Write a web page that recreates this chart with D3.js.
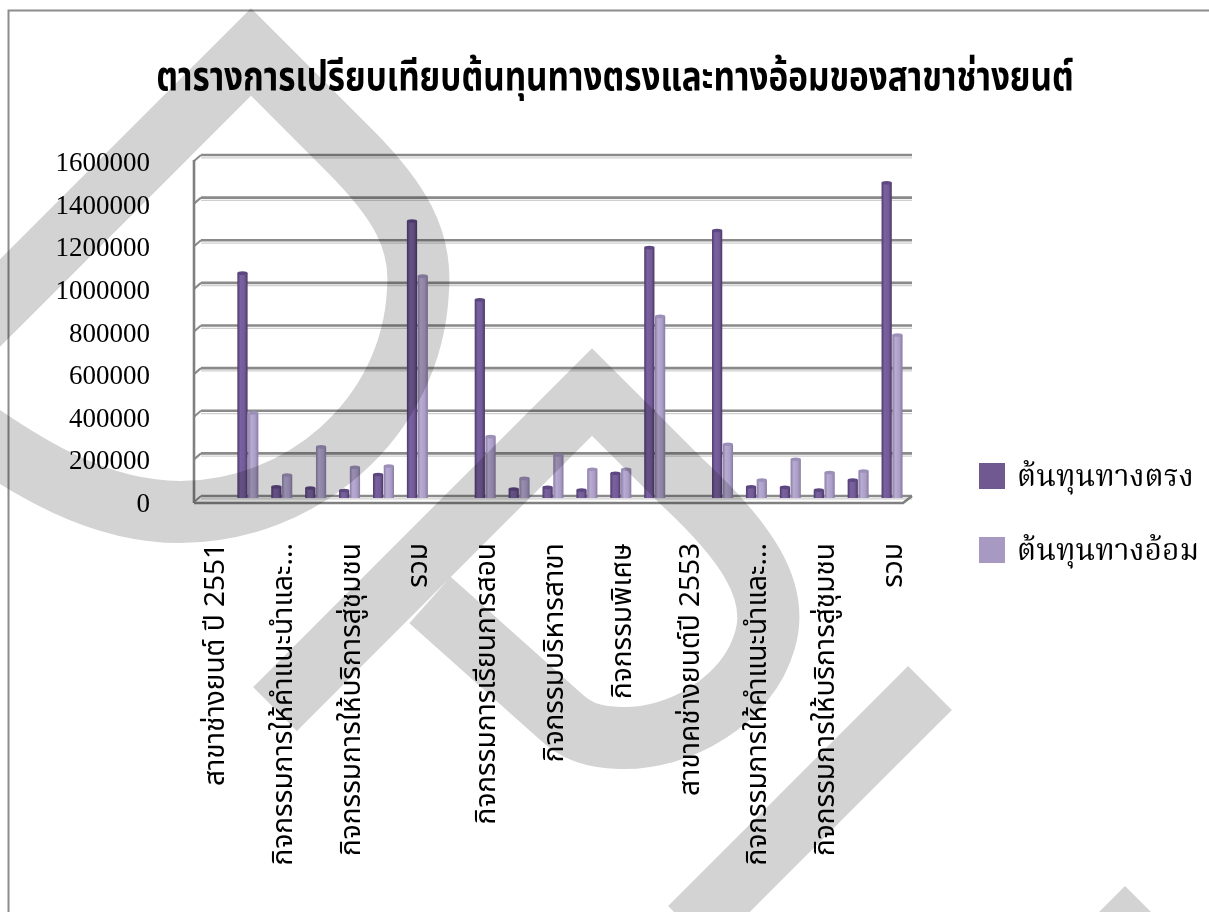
<!DOCTYPE html>
<html>
<head>
<meta charset="utf-8">
<script src="https://cdn.jsdelivr.net/npm/d3@7"></script>
<style>
  html, body { margin: 0; padding: 0; background: #ffffff; }
  svg { display: block; }
</style>
</head>
<body>
<svg id="chart" width="1209" height="912"></svg>
<script>
// ---- data ----
const chartTitle = "ตารางการเปรียบเทียบต้นทุนทางตรงและทางอ้อมของสาขาช่างยนต์";

const categories = [
  "สาขาช่างยนต์ ปี 2551",
  "กิจกรรมการเรียนการสอน",
  "กิจกรรมการให้คำแนะนำและ...",
  "กิจกรรมบริหารสาขา",
  "กิจกรรมการให้บริการสู่ชุมชน",
  "กิจกรรมพิเศษ",
  "รวม",
  "สาขาช่างยนต์ ปี 2552",
  "กิจกรรมการเรียนการสอน",
  "กิจกรรมการให้คำแนะนำและ...",
  "กิจกรรมบริหารสาขา",
  "กิจกรรมการให้บริการสู่ชุมชน",
  "กิจกรรมพิเศษ",
  "รวม",
  "สาขาคช่างยนต์ปี 2553",
  "กิจกรรมการเรียนการสอน",
  "กิจกรรมการให้คำแนะนำและ...",
  "กิจกรรมบริหารสาขา",
  "กิจกรรมการให้บริการสู่ชุมชน",
  "กิจกรรมพิเศษ",
  "รวม"
];

const seriesNames = ["ต้นทุนทางตรง", "ต้นทุนทางอ้อม"];

const directCost = [
  null, 1055000, 53000, 47000, 35000, 110000, 1300000,
  null, 930000, 42000, 50000, 37000, 116000, 1175000,
  null, 1255000, 53000, 50000, 37000, 84000, 1479000
];

const indirectCost = [
  null, 399000, 108000, 240000, 144000, 150000, 1041000,
  null, 288000, 92000, 202000, 135000, 135000, 852000,
  null, 252000, 84000, 182000, 120000, 127000, 765000
];

const yTicks = [0, 200000, 400000, 600000, 800000, 1000000, 1200000, 1400000, 1600000];

// ---- setup ----
const thaiSans = "'Noto Sans Thai','Noto Sans Thai UI','Loma','Garuda','Waree','Sawasdee','TlwgTypo','Noto Sans',sans-serif";
const thaiSerif = "'Noto Serif Thai','Norasi','Kinnari','Laksaman','Noto Sans Thai','Loma','Garuda',serif";
const latinSerif = "'Liberation Serif','DejaVu Serif',serif";

const svg = d3.select("#chart");
const W = 1209, H = 912;

const seriesData = [directCost, indirectCost];
const seriesColors = ["#705891", "#a899c2"];

const x0 = d3.scaleBand()
  .domain(d3.range(categories.length))
  .range([197, 909])
  .paddingInner(0)
  .paddingOuter(0);

const x1 = d3.scaleBand()
  .domain(d3.range(seriesNames.length))
  .range([x0.bandwidth() / 2 - 10.5, x0.bandwidth() / 2 + 10.5])
  .paddingInner(0.05);

const y = d3.scaleLinear()
  .domain([0, d3.max(yTicks)])
  .range([498, 157]);

// gradients giving the columns a rounded, shaded look
const defs = svg.append("defs");
const gradStops = [
  ["#4e3a6b", "#7a62a1", "#735b98", "#4a3764"],
  ["#8a7ca6", "#b8acd2", "#ab9dc7", "#877aa2"]
];
gradStops.forEach((stops, i) => {
  const g = defs.append("linearGradient")
    .attr("id", "colGrad" + i)
    .attr("x1", "0%").attr("x2", "100%").attr("y1", "0%").attr("y2", "0%");
  [0, 30, 70, 100].forEach((o, k) => {
    g.append("stop").attr("offset", o + "%").attr("stop-color", stops[k]);
  });
});

// outer chart border
svg.append("rect")
  .attr("x", 8.5).attr("y", 10.5)
  .attr("width", W + 20).attr("height", H + 20)
  .attr("fill", "none")
  .attr("stroke", "#8c8c8c")
  .attr("stroke-width", 2);

// title, condensed horizontally to its box width
const titleText = svg.append("text")
  .attr("text-anchor", "middle")
  .attr("font-family", thaiSans)
  .attr("font-weight", "bold")
  .attr("font-size", 40)
  .attr("fill", "#000")
  .text(chartTitle);
const titleNatural = titleText.node().getComputedTextLength();
titleText.attr("transform", `translate(615,90) scale(${918 / titleNatural},1)`);

// ---- walls and gridlines ----
const grid = svg.append("g");
const xLeft = 194, xBackLeft = 201, xBackRight = 912, xFloorRight = 903;

grid.selectAll("line.major")
  .data(yTicks)
  .join("line")
  .attr("x1", xBackLeft).attr("x2", xBackRight)
  .attr("y1", d => y(d) - 2).attr("y2", d => y(d) - 2)
  .attr("stroke", "#8a8a8a")
  .attr("stroke-width", 2.6);

grid.selectAll("line.shade")
  .data(yTicks)
  .join("line")
  .attr("x1", xBackLeft).attr("x2", xBackRight)
  .attr("y1", d => y(d) + 0.8).attr("y2", d => y(d) + 0.8)
  .attr("stroke", "#cfcfcf")
  .attr("stroke-width", 1.2);

// slanted joints on the side wall
grid.selectAll("line.joint")
  .data(yTicks)
  .join("line")
  .attr("x1", xLeft).attr("x2", xBackLeft)
  .attr("y1", d => y(d) + 4).attr("y2", d => y(d) - 2)
  .attr("stroke", "#8a8a8a")
  .attr("stroke-width", 2);

// side wall edge
grid.append("line")
  .attr("x1", xLeft).attr("x2", xLeft)
  .attr("y1", y(d3.max(yTicks)) + 3).attr("y2", y(0) + 5)
  .attr("stroke", "#808080")
  .attr("stroke-width", 2.6);

// floor front edge
grid.append("path")
  .attr("d", `M${xLeft},${y(0) + 5} L${xFloorRight},${y(0) + 5} L${xBackRight},${y(0) - 2}`)
  .attr("fill", "none")
  .attr("stroke", "#808080")
  .attr("stroke-width", 2.6);

// ---- y axis labels ----
svg.append("g")
  .selectAll("text")
  .data(yTicks)
  .join("text")
  .attr("x", 150)
  .attr("y", d => y(d) + 14)
  .attr("text-anchor", "end")
  .attr("font-family", latinSerif)
  .attr("font-size", 27)
  .attr("fill", "#000")
  .text(d => d3.format("d")(d));

// ---- columns ----
const bars = svg.append("g");
seriesData.forEach((vals, s) => {
  const pts = vals.map((v, i) => ({ i, v })).filter(d => d.v != null);
  const g = bars.append("g");
  g.selectAll("rect")
    .data(pts)
    .join("rect")
    .attr("x", d => x0(d.i) + x1(s))
    .attr("y", d => y(d.v))
    .attr("width", x1.bandwidth())
    .attr("height", d => y(0) - y(d.v))
    .attr("fill", `url(#colGrad${s})`);
  g.selectAll("ellipse")
    .data(pts)
    .join("ellipse")
    .attr("cx", d => x0(d.i) + x1(s) + x1.bandwidth() / 2)
    .attr("cy", d => y(d.v))
    .attr("rx", x1.bandwidth() / 2)
    .attr("ry", 1.8)
    .attr("fill", s === 0 ? "#5c4780" : "#9d90b8");
});

// ---- category labels (every other category, rotated) ----
svg.append("g")
  .selectAll("text")
  .data(categories.map((c, i) => ({ c, i })).filter(d => d.i % 2 === 0))
  .join("text")
  .attr("transform", d => `translate(${x0(d.i) + x0.bandwidth() / 2 + 10},543) rotate(-90)`)
  .attr("text-anchor", "end")
  .attr("font-family", thaiSans)
  .attr("font-size", 28)
  .attr("fill", "#000")
  .text(d => d.c);

// ---- legend ----
const legend = svg.append("g");
seriesNames.forEach((name, s) => {
  const ly = 463 + s * 74;
  legend.append("rect")
    .attr("x", 979).attr("y", ly)
    .attr("width", 26).attr("height", 26)
    .attr("fill", seriesColors[s]);
  legend.append("text")
    .attr("x", 1017).attr("y", ly + 23)
    .attr("font-family", thaiSerif)
    .attr("font-size", 30)
    .attr("fill", "#000")
    .text(name);
});

// ---- background mark laid over the page ----
const mark = svg.append("g")
  .style("mix-blend-mode", "multiply")
  .attr("fill", "none")
  .attr("stroke", "#d3d3d3")
  .attr("stroke-width", 62)
  .attr("stroke-linejoin", "miter")
  .attr("stroke-linecap", "butt");

mark.append("path")
  .attr("d", "M-80,383 L251,52 L349,150 C400,201 422,240 418,290 C412,420 300,512 180,512 C100,512 30,470 -40,420");
mark.append("path")
  .attr("d", "M275,709 L592,392 L680,480 C745,540 780,590 765,640 C748,700 680,740 620,738 C590,737 575,730 560,716 L430,600");
mark.append("path")
  .attr("d", "M930,688 L690,928");
mark.append("path")
  .attr("stroke", "none")
  .attr("fill", "#d3d3d3")
  .attr("d", "M1096,915 L1125,886 L1154,915 Z");
</script>
</body>
</html>
